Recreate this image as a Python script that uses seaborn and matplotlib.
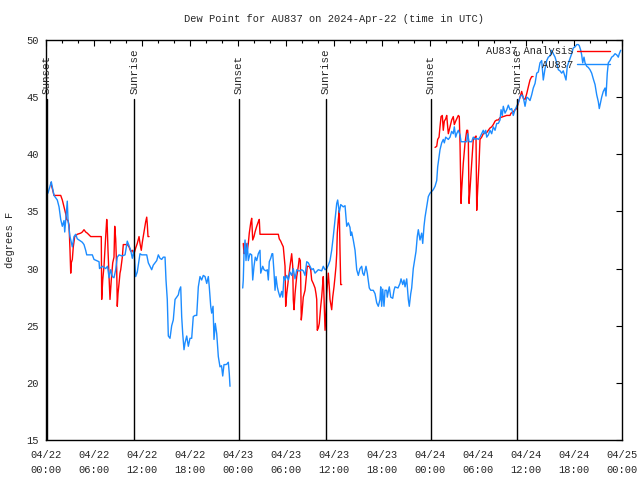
import numpy as np
import pandas as pd
import matplotlib
matplotlib.use("Agg")
import matplotlib.pyplot as plt
from matplotlib.lines import Line2D
import seaborn as sns

# hours since 2024-04-22 00:00 UTC
obs_seg1_hours = [0.25, 0.66, 1.0, 1.41, 1.63, 1.84, 2.04, 2.25, 2.34, 2.66, 2.75, 3.0, 3.29, 3.5, 3.71,
                  3.91, 4.34, 4.54, 4.75, 4.96, 5.09, 5.79, 6.0, 6.63, 6.69, 7.04, 7.46, 7.69, 7.88, 8.09,
                  8.29, 8.5, 8.71, 8.91, 9.13, 9.5, 9.88, 10.16, 10.38, 10.59, 10.79, 11.0, 11.21, 11.41,
                  11.75, 11.96, 12.38, 12.59, 12.79, 13.0, 13.21, 13.41, 13.84, 14.04, 14.25, 14.46, 14.66,
                  14.88, 15.0, 15.16, 15.29, 15.5, 15.71, 15.91, 16.13, 16.34, 16.54, 16.66, 16.84, 16.96,
                  17.09, 17.25, 17.38, 17.59, 17.79, 18.0, 18.21, 18.41, 18.63, 18.84, 19.04, 19.25, 19.46,
                  19.66, 19.88, 20.09, 20.29, 20.41, 20.59, 20.71, 20.88, 21.0, 21.16, 21.34, 21.54, 21.75,
                  21.94, 22.09, 22.25, 22.5, 22.71, 22.79, 22.91, 23.0]
obs_seg1_vals = [36.6, 37.6, 36.4, 36.0, 35.4, 34.3, 33.7, 34.2, 33.2, 35.9, 34.3, 32.8, 31.9, 32.8, 33.0,
                 32.6, 32.4, 32.3, 32.1, 31.6, 31.2, 31.2, 30.8, 30.6, 30.0, 30.2, 30.0, 30.2, 29.2, 29.9,
                 29.3, 29.2, 29.9, 31.0, 31.2, 31.1, 31.2, 32.4, 32.0, 31.6, 30.9, 31.6, 29.3, 29.7,
                 31.3, 31.2, 31.2, 31.2, 30.5, 30.2, 29.9, 30.3, 30.7, 31.2, 30.9, 30.8, 31.0,
                 31.0, 29.0, 27.3, 24.1, 23.9, 25.0, 25.5, 27.3, 27.5, 27.7, 28.1, 28.4, 25.8,
                 24.3, 22.9, 23.5, 24.1, 23.2, 23.9, 23.9, 25.8, 25.9, 25.9, 28.4, 29.3, 29.0,
                 29.4, 29.3, 28.7, 29.3, 28.4, 26.7, 26.1, 26.7, 23.8, 25.2, 24.3, 22.3, 21.4,
                 21.5, 20.6, 21.6, 21.6, 21.7, 21.8, 20.8, 19.7]

obs_seg2_hours = [24.59, 24.66, 24.75, 24.88, 25.0, 25.16, 25.29, 25.5, 25.71, 25.84, 26.0, 26.16, 26.34,
                  26.54, 26.75, 26.84, 27.09, 27.25, 27.5, 27.66, 27.79, 27.91, 28.09, 28.25, 28.34, 28.5,
                  28.63, 28.75, 28.91, 29.04, 29.25, 29.46, 29.59, 29.75, 29.88, 30.09, 30.29, 30.5, 30.71,
                  30.91, 31.13, 31.34, 31.54, 31.75, 31.96, 32.16, 32.38, 32.59, 32.79, 33.0, 33.21, 33.41,
                  33.63, 34.04, 34.46, 34.66, 34.88, 35.09, 35.29, 35.5, 35.71, 35.91, 36.13, 36.34, 36.46,
                  36.66, 36.84, 37.16, 37.38, 37.59, 37.79, 38.0, 38.09, 38.21, 38.41, 38.63, 38.84, 39.04,
                  39.25, 39.46, 39.59, 39.75, 40.0, 40.16, 40.41, 40.59, 40.91, 41.13, 41.34, 41.54, 41.75,
                  41.84, 41.96, 42.09, 42.25, 42.38, 42.59, 42.66, 42.91, 43.09, 43.34, 43.5, 43.63, 44.0,
                  44.25, 44.38, 44.59, 44.75, 44.88, 45.09, 45.29, 45.41, 45.59, 45.71, 45.91, 46.13, 46.25,
                  46.41, 46.54, 46.75, 46.96, 47.09, 47.25, 47.38, 47.59, 47.79, 48.0, 48.41, 48.63, 48.84,
                  48.96, 49.13, 49.25, 49.46, 49.66, 49.79, 49.96, 50.29, 50.5, 50.71, 50.91, 51.04, 51.21,
                  51.34, 51.54, 51.75, 51.88, 52.38, 52.59, 52.71, 52.88, 53.21, 53.41, 53.63, 53.84, 54.04,
                  54.25, 54.46, 54.66, 54.79, 54.96, 55.09, 55.29, 55.5, 55.71, 55.91, 56.13, 56.34, 56.54,
                  56.75, 56.88, 57.04, 57.16, 57.38, 57.59, 57.79, 58.0, 58.21, 58.41, 58.63, 58.84, 59.04,
                  59.25, 59.46, 59.66, 59.88, 60.09, 60.29, 60.5, 60.71, 60.91, 61.13, 61.34, 61.54, 61.75,
                  61.96, 62.16, 62.38, 62.59, 62.79, 63.0, 63.21, 63.41, 63.63, 63.84, 64.04, 64.25, 64.46,
                  64.66, 64.88, 65.0, 65.16, 65.41, 65.71, 65.91, 66.13, 66.34, 66.54, 66.66, 66.84, 66.96,
                  67.09, 67.25, 67.38, 67.59, 67.79, 68.0, 68.21, 68.41, 68.63, 68.84, 69.04, 69.16, 69.34,
                  69.46, 69.66, 69.88, 70.0, 70.16, 70.29, 70.5, 70.71, 70.91, 71.13, 71.34, 71.54, 71.66,
                  71.84]
obs_seg2_vals = [28.3, 29.0, 31.3, 32.5, 30.7, 32.2, 30.7, 31.3, 31.2, 29.0, 30.2, 31.0, 30.7,
                 31.3, 31.6, 29.6, 30.2, 29.9, 29.8, 29.9, 29.0, 30.6, 30.9, 31.3, 31.3, 29.7,
                 28.1, 29.3, 28.4, 28.0, 27.5, 28.0, 27.5, 29.3, 29.0, 29.4, 29.0, 29.7, 29.4,
                 30.0, 29.1, 29.9, 29.8, 29.8, 29.9, 29.8, 29.4, 30.6, 30.5, 30.2, 29.9, 30.0,
                 29.6, 29.9, 29.8, 30.2, 29.9, 30.0, 30.3, 30.7, 31.6, 32.8, 34.3, 35.7, 36.0,
                 34.9, 35.6, 35.4, 35.5, 33.7, 34.0, 33.6, 32.9, 33.2, 32.5, 31.6, 29.9, 29.4,
                 30.0, 30.2, 29.6, 29.4, 30.2, 29.6, 28.3, 28.1, 28.1, 27.8, 27.0, 26.7, 27.3,
                 28.4, 26.7, 28.2, 26.7, 28.1, 28.1, 27.5, 28.4, 27.5, 27.4, 28.1, 28.4, 28.3,
                 28.7, 29.1, 28.6, 29.0, 28.4, 29.1, 27.3, 26.7, 27.8, 28.3, 30.0, 31.0, 31.5,
                 32.8, 33.4, 32.5, 33.1, 32.2, 33.7, 34.5, 35.4, 36.3, 36.6, 36.9, 37.2, 37.7,
                 38.9, 39.8, 40.4, 41.0, 41.3, 41.0, 41.5, 41.3, 41.5, 42.0, 41.8, 42.4, 41.5,
                 41.8, 42.1, 41.7, 41.1, 41.1, 41.1, 41.8, 41.1, 41.1, 41.5, 41.3, 41.4, 41.3,
                 41.5, 41.8, 42.1, 41.8, 42.1, 41.5, 41.7, 42.1, 41.8, 42.4, 42.1, 42.7, 42.7,
                 43.0, 43.9, 43.4, 44.2, 43.6, 43.9, 44.3, 43.9, 44.0, 43.4, 43.9, 44.2, 44.5,
                 45.0, 45.2, 45.0, 44.2, 45.0, 44.9, 44.7, 45.2, 45.8, 46.2, 47.1, 47.2, 48.0,
                 48.2, 46.5, 47.5, 48.2, 48.5, 48.6, 49.1, 48.8, 48.5, 48.0, 47.4, 47.3, 47.1,
                 47.3, 46.8, 46.5, 47.7, 48.2, 48.8, 49.3, 49.4, 49.6, 49.6, 49.5, 49.1, 48.7,
                 48.0, 48.5, 48.0, 47.7, 47.6, 47.4, 47.1, 46.6, 46.1, 45.2, 44.6, 44.0, 44.6,
                 45.0, 45.5, 45.8, 45.1, 47.1, 48.0, 48.2, 48.5, 48.6, 48.8, 48.7, 48.5, 48.8,
                 49.1]

ana_seg1_hours = [0.59, 0.79, 1.0, 1.84, 2.04, 2.25, 2.46, 2.59, 2.75, 2.88, 3.0, 3.09, 3.16, 3.29, 3.41,
                  3.59, 3.91, 4.34, 4.54, 4.75, 4.96, 5.16, 5.59, 6.91, 6.96, 7.09, 7.25, 7.46, 7.59, 7.66,
                  7.75, 7.88, 8.0, 8.16, 8.34, 8.5, 8.59, 8.71, 8.84, 8.91, 9.0, 9.13, 9.25, 9.34, 9.54,
                  9.66, 10.16, 10.38, 10.59, 10.79, 11.0, 11.21, 11.41, 11.63, 11.75, 11.91, 12.04, 12.25,
                  12.46, 12.59, 12.66, 12.75, 12.88]
ana_seg1_vals = [37.5, 37.0, 36.4, 36.4, 36.0, 35.4, 34.8, 34.3, 34.2, 33.8, 31.6, 29.6, 30.5, 30.8, 31.9,
                 32.8, 33.0, 33.1, 33.2, 33.4, 33.2, 33.1, 32.8, 32.8, 27.3, 29.0, 30.2, 32.8, 34.3, 33.6,
                 31.6, 29.3, 27.3, 29.0, 30.5, 31.0, 33.7, 32.6, 29.9, 26.7, 27.8, 28.7, 29.6, 29.9, 31.0,
                 32.1, 32.1, 31.9, 31.5, 31.6, 31.3, 31.8, 32.2, 32.8, 32.2, 31.6, 32.3, 33.2,
                 34.1, 34.5, 33.9, 32.8, 32.8]

ana_seg2_hours = [24.66, 24.75, 24.88, 25.0, 25.16, 25.29, 25.41, 25.59, 25.71, 25.84, 26.0, 26.13, 26.34,
                  26.54, 26.66, 26.75, 29.04, 29.16, 29.34, 29.46, 29.66, 29.88, 29.96, 30.09, 30.29, 30.5,
                  30.71, 30.84, 30.91, 31.0, 31.13, 31.25, 31.34, 31.54, 31.66, 31.79, 31.84, 31.91, 32.0,
                  32.16, 32.38, 32.5, 32.66, 32.91, 33.09, 33.21, 33.41, 33.63, 33.75, 33.84, 33.91, 34.04,
                  34.16, 34.34, 34.46, 34.59, 34.66, 34.75, 34.88, 35.0, 35.09, 35.29, 35.41, 35.5, 35.71,
                  35.84, 36.0, 36.13, 36.25, 36.34, 36.41, 36.54, 36.66, 36.75, 36.84, 36.96]
ana_seg2_vals = [32.2, 31.3, 31.6, 32.2, 31.6, 32.2, 33.1, 34.0, 34.4, 32.5, 32.8, 33.2, 33.7,
                 34.1, 34.3, 33.0, 33.0, 32.6, 32.4, 32.2, 31.9, 30.2, 26.7, 27.8, 29.0, 30.2,
                 31.3, 30.2, 27.3, 26.4, 27.8, 28.7, 29.3, 30.2, 30.9, 30.7, 29.0, 25.5, 26.1,
                 27.5, 28.1, 29.0, 30.2, 30.2, 29.9, 29.0, 28.7, 28.3, 27.8, 27.3, 24.6, 24.8,
                 25.2, 26.7, 27.5, 28.7, 29.3, 27.5, 24.6, 26.1, 27.8, 29.6, 28.4, 27.3, 26.4,
                 27.5, 28.4, 29.3, 30.2, 31.3, 33.1, 34.3, 35.1, 31.6, 28.6, 28.6]

ana_seg3_hours = [48.63, 48.84, 48.96, 49.13, 49.25, 49.38, 49.54, 49.66, 49.79, 49.96, 50.09, 50.21, 50.29,
                  50.5, 50.71, 50.91, 51.04, 51.21, 51.34, 51.54, 51.66, 51.75, 51.88, 51.96, 52.16, 52.38,
                  52.59, 52.71, 52.79, 52.88, 53.0, 53.21, 53.41, 53.63, 53.75, 53.84, 53.96, 54.13, 54.25,
                  54.46, 54.66, 55.09, 55.29, 55.5, 55.71, 55.91, 56.13, 56.34, 56.54, 56.75, 57.16, 57.59,
                  58.0, 58.13, 58.41, 58.63, 58.84, 59.04, 59.25, 59.46, 59.66, 59.88, 60.09, 60.29, 60.5,
                  60.71, 60.88]
ana_seg3_vals = [40.6, 40.7, 41.3, 41.5, 42.4, 43.3, 43.4, 42.1, 42.9, 43.1, 43.4, 42.4, 41.8,
                 42.4, 43.0, 43.3, 42.6, 42.9, 43.1, 43.4, 43.3, 41.0, 35.7, 36.9, 39.2, 41.0,
                 42.1, 42.1, 41.3, 35.7, 36.9, 39.2, 41.3, 41.5, 41.6, 35.1, 36.9, 39.2, 41.3,
                 41.5, 41.8, 41.9, 42.1, 42.3, 42.4, 42.6, 42.9, 43.0, 43.0, 43.2, 43.3, 43.4,
                 43.4, 43.6, 43.7, 43.9, 44.0, 44.5, 45.0, 45.5, 44.9, 44.8, 45.3, 45.9, 46.5,
                 46.8, 46.8]

sun_hours = [0.1, 11.05, 24.1, 34.95, 48.1, 58.9]
sun_labels = ["Sunset", "Sunrise", "Sunset", "Sunrise", "Sunset", "Sunrise"]

tick_hours = [0, 6, 12, 18, 24, 30, 36, 42, 48, 54, 60, 66, 72]
tick_labels = ["04/22\n00:00", "04/22\n06:00", "04/22\n12:00", "04/22\n18:00",
               "04/23\n00:00", "04/23\n06:00", "04/23\n12:00", "04/23\n18:00",
               "04/24\n00:00", "04/24\n06:00", "04/24\n12:00", "04/24\n18:00",
               "04/25\n00:00"]

RED = "#ff0000"
BLUE = "#1c8cff"


def build_frame(segments, name):
    parts = []
    for i, (h, v) in enumerate(segments):
        parts.append(pd.DataFrame({"hour": h, "value": v, "segment": f"{name}{i}"}))
    return pd.concat(parts, ignore_index=True)


ana_df = build_frame([(ana_seg1_hours, ana_seg1_vals),
                      (ana_seg2_hours, ana_seg2_vals),
                      (ana_seg3_hours, ana_seg3_vals)], "ana")
obs_df = build_frame([(obs_seg1_hours, obs_seg1_vals),
                      (obs_seg2_hours, obs_seg2_vals)], "obs")

sns.set_style("white")
plt.rcParams["font.family"] = ["Liberation Mono", "DejaVu Sans Mono"]
plt.rcParams["font.size"] = 7.5

fig = plt.figure(figsize=(6.4, 4.8), dpi=100)
ax = fig.add_axes([46 / 640, 1 - 440 / 480, 576 / 640, 400 / 480])

sns.lineplot(data=ana_df, x="hour", y="value", units="segment", estimator=None,
             color=RED, linewidth=1.0, ax=ax, legend=False)
sns.lineplot(data=obs_df, x="hour", y="value", units="segment", estimator=None,
             color=BLUE, linewidth=1.0, ax=ax, legend=False)

# sunrise / sunset markers
for h, lab in zip(sun_hours, sun_labels):
    ax.plot([h, h], [0, 0.853], color="black", linewidth=1.0,
            transform=ax.get_xaxis_transform())
    ax.text(h, 0.864, lab, rotation=90, ha="center", va="bottom", fontsize=7.8,
            transform=ax.get_xaxis_transform())

ax.set_xlim(0, 72)
ax.set_ylim(15, 50)
ax.set_xticks(tick_hours)
ax.set_xticklabels(tick_labels, linespacing=1.6)
ax.set_xticks(np.arange(0, 73, 2), minor=True)
ax.set_yticks(np.arange(15, 51, 5))

ax.tick_params(which="both", direction="in", top=True, right=True, color="black")
ax.tick_params(which="major", length=4.5, width=0.8)
ax.tick_params(which="minor", length=2.5, width=0.8)
ax.tick_params(axis="x", which="major", pad=7)
ax.tick_params(axis="y", which="major", pad=5)
for s in ax.spines.values():
    s.set_visible(True)
    s.set_color("black")
    s.set_linewidth(1.0)

ax.set_xlabel("")
ax.set_ylabel("degrees F", fontsize=7.5, labelpad=8)
ax.set_title("Dew Point for AU837 on 2024-Apr-22 (time in UTC)", fontsize=7.5, pad=13)

handles = [Line2D([], [], color=RED, linewidth=1.0),
           Line2D([], [], color=BLUE, linewidth=1.0)]
ax.legend(handles, ["AU837 Analysis", "AU837"], loc="upper right",
          bbox_to_anchor=(0.99, 1.0), frameon=False, markerfirst=False,
          handlelength=3.2, handletextpad=0.3, labelspacing=0.35,
          borderaxespad=0.2, fontsize=7.5)

fig.savefig("out.png", dpi=100)
